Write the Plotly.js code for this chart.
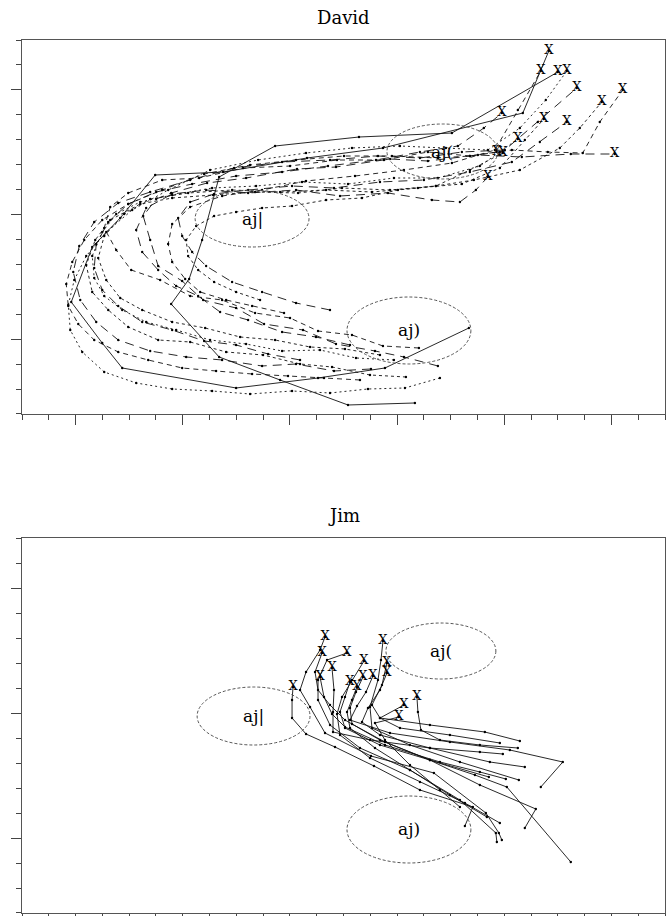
<!DOCTYPE html>
<html><head><meta charset="utf-8">
<script src="https://cdn.plot.ly/plotly-3.0.1.min.js"></script>
<style>html,body{margin:0;padding:0;background:#fff}</style>
</head><body>
<div id="chart" style="width:671px;height:916px"></div>
<script>
// ---------- David: formant trajectories, onset -> offset (offset marked X) ----------
const d01x = [415,348,280,219,171,189,202,219,275,359,452,558];
const d01y = [403,405,380,357,304,279,240,177,146,137,133,72];
const d02x = [469,385,318,236,122,102,71,92,120,155,223,307,383,523,549];
const d02y = [328,368,378,388,368,343,302,247,218,175,172,158,148,113,51];
const d03x = [438,404,375,336,303,264,236,203,182,158,150,143,156,171,207,246,297,336,390,428,478,522,571,615];
const d03y = [366,357,351,344,330,324,308,300,281,266,240,216,199,193,183,178,169,167,159,161,155,157,154,154];
const d04x = [419,383,352,318,290,255,222,190,160,131,116,104,110,128,162,199,243,290,337,384,428,470,512,548,583,600,623];
const d04y = [348,346,335,331,318,313,300,296,280,270,250,228,207,193,180,178,168,166,160,160,152,156,150,152,153,122,90];
const d05x = [406,370,332,300,263,226,190,158,128,108,92,86,95,110,140,172,213,255,298,342,390,436,474,520,560,580,602];
const d05y = [377,375,367,364,355,352,342,340,327,310,292,265,240,220,204,198,195,192,193,188,190,186,180,170,148,128,102];
const d06x = [371,334,296,262,222,186,150,118,96,80,73,79,94,118,150,190,234,282,330,378,420,462,505,538,577];
const d06y = [369,371,364,366,360,357,351,340,322,300,272,246,222,203,192,180,168,162,160,156,158,152,150,122,88];
const d07x = [440,405,368,330,292,250,212,172,136,104,82,70,68,74,86,106,132,168,210,258,306,352,400,446,488,520,546,567];
const d07y = [378,388,389,393,391,394,391,389,383,372,352,330,305,280,256,232,210,190,170,160,153,148,146,148,150,128,100,71];
const d08x = [284,252,226,200,185,172,168,172,190,222,262,306,355,404,452,495,518,541];
const d08y = [313,306,300,292,279,262,244,224,207,196,190,181,176,170,163,150,110,71];
const d09x = [350,316,282,248,220,198,176,158,142,136,146,172,206,248,296,340,388,432,460,476,488];
const d09y = [345,337,332,320,312,296,286,270,252,230,208,194,190,193,190,196,193,200,202,190,177];
const d10x = [380,345,310,275,240,205,172,142,120,106,98,104,124,150,188,232,280,326,372,418,462,500,525,544];
const d10y = [355,349,347,340,337,328,322,310,298,280,258,236,214,199,193,190,192,190,192,188,184,168,140,119];
const d11x = [330,296,262,232,206,192,182,178,190,214,248,292,334,380,424,470,512,540,567];
const d11y = [310,303,292,282,266,252,236,218,202,194,190,186,188,182,180,172,162,142,122];
const d12x = [394,356,320,282,246,210,176,146,122,104,94,92,102,116,140,172,212,256,302,348,394,438,480,500,518];
const d12y = [360,358,350,351,344,340,330,322,310,296,278,256,232,214,202,195,188,186,182,184,178,178,166,152,139];
const d13x = [360,324,288,252,216,182,148,118,94,78,68,66,72,84,102,128,162,204,250,296,344,392,438,470,497];
const d13y = [380,378,376,374,371,368,360,352,340,324,306,284,262,240,220,204,190,174,165,160,156,156,158,156,152];
const d14x = [260,236,214,198,188,186,196,214,236,262,292,326,362,398,436,470,503];
const d14y = [300,292,282,270,256,240,226,216,212,208,206,200,198,190,186,170,153];
const d15x = [300,268,236,204,172,142,118,102,94,96,108,128,156,192,236,282,328,376,420,458,484,502];
const d15y = [360,354,345,341,330,322,306,290,268,244,222,204,192,184,176,172,166,160,152,146,128,113];

// ---------- Jim: formant trajectories, offset (X) first ----------
const j01x = [325,320,306,300,310,325,371,434,486,499,502];
const j01y = [637,650,672,690,707,733,756,773,813,833,840];
const j02x = [383,381,378,370,372,410,460,519];
const j02y = [641,660,680,707,728,745,762,780];
const j03x = [322,315,318,330,345,380,430,480,536,525];
const j03y = [653,672,690,705,720,740,760,785,809,828];
const j04x = [347,327,318,318,330,360,410,460,496,497];
const j04y = [653,660,680,700,725,748,770,800,833,842];
const j05x = [364,352,342,337,340,370,420,465,500];
const j05y = [661,680,697,714,735,758,782,803,823];
const j06x = [387,382,372,380,430,485,520];
const j06y = [663,685,705,718,725,732,741];
const j07x = [332,334,333,333,370,430,480,503];
const j07y = [668,690,712,732,740,748,752,754];
const j08x = [320,324,332,345,385,440,480,506];
const j08y = [677,697,714,727,745,762,772,779];
const j09x = [387,380,368,362,380,430,490,525];
const j09y = [673,690,708,722,735,748,762,767];
const j10x = [373,366,357,350,390,450,510,563,541];
const j10y = [676,692,706,720,733,742,750,762,787];
const j11x = [363,356,350,352,385,430,475,507,571];
const j11y = [677,692,708,724,742,760,775,787,862];
const j12x = [350,345,340,345,380,430,489];
const j12y = [682,697,712,728,745,760,777];
const j13x = [293,292,292,306,335,374,420,473,465];
const j13y = [687,700,718,734,747,766,790,807,826];
const j14x = [357,352,347,350,375,410,450,487];
const j14y = [687,700,712,728,748,770,795,817];
const j15x = [417,418,421,440,480,518];
const j15y = [697,712,730,740,745,748];
const j16x = [404,380,400,450,500];
const j16y = [705,718,728,735,743];
const j17x = [399,375,385,410,440,460];
const j17y = [717,723,740,765,790,807];

// ---------- target ellipses (vowel regions) ----------
const ellLabels = ['aj(', 'aj|', 'aj)'];
const davidEllX0 = [387,195,347];
const davidEllX1 = [498,309,471];
const davidEllY0 = [124,190,297];
const davidEllY1 = [179,247,364];
const jimEllX0 = [386,197,347];
const jimEllX1 = [496,310,471];
const jimEllY0 = [623,687,796];
const jimEllY1 = [679,745,863];

const panelTitles = ['David', 'Jim'];

// ---------- styles (kept apart from the data) ----------
const davidX = [d01x,d02x,d03x,d04x,d05x,d06x,d07x,d08x,d09x,d10x,d11x,d12x,d13x,d14x,d15x];
const davidY = [d01y,d02y,d03y,d04y,d05y,d06y,d07y,d08y,d09y,d10y,d11y,d12y,d13y,d14y,d15y];
const davidDash = ['solid','solid','9px,6px','5px,4px','3px,3px','9px,6px','2px,3px',
                   '5px,4px','9px,6px','3px,3px','9px,6px','2px,3px','5px,4px','3px,3px','9px,6px'];
const jimX = [j01x,j02x,j03x,j04x,j05x,j06x,j07x,j08x,j09x,j10x,j11x,j12x,j13x,j14x,j15x,j16x,j17x];
const jimY = [j01y,j02y,j03y,j04y,j05y,j06y,j07y,j08y,j09y,j10y,j11y,j12y,j13y,j14y,j15y,j16y,j17y];

const traces = [];
function addPanel(xs, ys, dashes, xa, ya, xAtStart) {
  xs.forEach((x, i) => {
    traces.push({
      type: 'scatter', mode: 'lines+markers', x: x, y: ys[i], xaxis: xa, yaxis: ya,
      line: {color: '#111', width: 0.9, dash: dashes ? dashes[i] : 'solid'},
      marker: {size: 2.4, color: '#000'},
      hoverinfo: 'skip', showlegend: false
    });
  });
  const pick = a => xAtStart ? a[0] : a[a.length - 1];
  traces.push({
    type: 'scatter', mode: 'text', xaxis: xa, yaxis: ya,
    x: xs.map(pick), y: ys.map(pick),
    text: xs.map(() => 'X'), textposition: 'middle center',
    textfont: {family: 'DejaVu Serif, serif', size: 13, color: '#000'},
    cliponaxis: false, hoverinfo: 'skip', showlegend: false
  });
}
addPanel(davidX, davidY, davidDash, 'x', 'y', false);
addPanel(jimX, jimY, null, 'x2', 'y2', true);

const shapes = [];
const annotations = [];
function addEllipses(x0, x1, y0, y1, xr, yr) {
  x0.forEach((v, i) => {
    shapes.push({type: 'circle', xref: xr, yref: yr, x0: v, x1: x1[i], y0: y0[i], y1: y1[i],
                 line: {color: '#555', width: 1, dash: '3px,2px'}});
    annotations.push({xref: xr, yref: yr, x: (v + x1[i]) / 2, y: (y0[i] + y1[i]) / 2,
                      text: ellLabels[i], showarrow: false,
                      font: {family: 'DejaVu Serif, serif', size: 17, color: '#000'}});
  });
}
addEllipses(davidEllX0, davidEllX1, davidEllY0, davidEllY1, 'x', 'y');
addEllipses(jimEllX0, jimEllX1, jimEllY0, jimEllY1, 'x2', 'y2');

annotations.push({xref: 'paper', yref: 'paper', x: 0.5, y: 1.0263, text: panelTitles[0], showarrow: false,
                  xanchor: 'center', yanchor: 'middle', font: {family: 'DejaVu Serif, serif', size: 18, color: '#000'}});
annotations.push({xref: 'paper', yref: 'paper', x: 0.5, y: 0.4548, text: panelTitles[1], showarrow: false,
                  xanchor: 'center', yanchor: 'middle', font: {family: 'DejaVu Serif, serif', size: 18, color: '#000'}});

function xAxis(anchor) {
  return {anchor: anchor, domain: [0, 1], range: [21.7, 665.3], showgrid: false, zeroline: false,
    showline: true, mirror: true, linecolor: '#555', linewidth: 1,
    ticks: 'outside', ticklen: 10, tickwidth: 1, tickcolor: '#444', tickmode: 'linear',
    tick0: 75.34, dtick: 107.27, showticklabels: false,
    minor: {ticks: 'outside', ticklen: 5, tickwidth: 1, tickcolor: '#444', tick0: 21.7, dtick: 26.817, showgrid: false}};
}
function yAxis(anchor, domain, range) {
  const step = (range[0] - range[1]) / 15;
  return {anchor: anchor, domain: domain, range: range, showgrid: false, zeroline: false,
    showline: true, mirror: true, linecolor: '#555', linewidth: 1,
    ticks: 'outside', ticklen: 10, tickwidth: 1, tickcolor: '#444', tickmode: 'linear',
    tick0: range[0] - 3 * step, dtick: 5 * step, showticklabels: false,
    minor: {ticks: 'outside', ticklen: 5, tickwidth: 1, tickcolor: '#444', tick0: range[0], dtick: step, showgrid: false}};
}

const layout = {
  width: 671, height: 916,
  margin: {l: 22, r: 6, t: 40, b: 3, pad: 0},
  paper_bgcolor: '#fff', plot_bgcolor: '#fff',
  showlegend: false,
  xaxis: xAxis('y'),
  yaxis: yAxis('x', [0.5716, 1], [414, 40]),
  xaxis2: xAxis('y2'),
  yaxis2: yAxis('x2', [0, 0.4292], [913, 538.3]),
  shapes: shapes,
  annotations: annotations
};

Plotly.newPlot('chart', traces, layout, {staticPlot: true, displayModeBar: false});
</script>
</body></html>
